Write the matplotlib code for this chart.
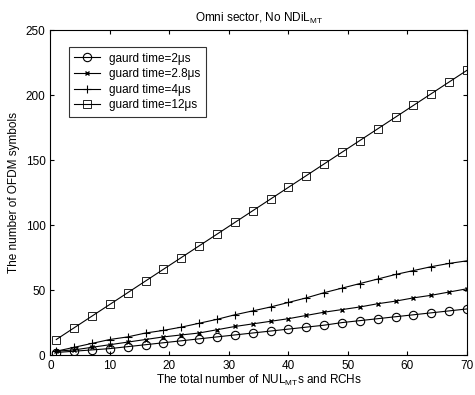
import numpy as np
import matplotlib
matplotlib.use('Agg')
import matplotlib.pyplot as plt

plt.rcParams['font.family'] = ['Liberation Sans', 'DejaVu Sans']
plt.rcParams['mathtext.fontset'] = 'custom'
plt.rcParams['mathtext.rm'] = 'Liberation Sans'
plt.rcParams['mathtext.it'] = 'Liberation Sans'

# number of NUL_MTs and RCHs (marker positions)
n_users = [1, 4, 7, 10, 13, 16, 19, 22, 25, 28, 31, 34, 37, 40, 43, 46, 49, 52, 55, 58, 61, 64, 67, 70]

# number of OFDM symbols per guard time
gt_2us = [2, 3, 4, 5, 6.5, 8, 9.5, 11, 12.5, 14, 15.5, 17, 18.5, 20, 21.5, 23, 25, 26.5, 28, 29.5, 31, 32.5, 34, 35.5]
gt_2_8us = [3, 4, 6, 8, 10, 12, 14, 15.5, 17, 19.5, 22, 24, 26, 28, 30.5, 33, 35, 37, 39.5, 41.5, 44, 46, 48.5, 51]
gt_4us = [3, 6, 9, 12, 14, 17, 19, 21.5, 24.5, 27.5, 31, 34, 37, 40.5, 44, 48, 51.5, 55, 58.5, 62, 65, 68, 70.5, 72.5]
gt_12us = [12, 21, 30, 39, 48, 57, 66, 75, 84, 93, 102, 111, 120, 129, 138, 147, 156, 165, 174, 183, 192, 201, 210, 219]

labels = ['gaurd time=2μs', 'guard time=2.8μs', 'guard time=4μs', 'guard time=12μs']

fig = plt.figure(figsize=(4.75, 3.95), dpi=100)
ax = fig.add_axes([0.106, 0.101, 0.877, 0.823])

ax.plot(n_users, gt_2us, '-o', color='k', lw=0.8, ms=6, mfc='none', mew=0.8, label=labels[0])
ax.plot(n_users, gt_2_8us, '-x', color='k', lw=0.8, ms=3, mew=1.0, label=labels[1])
ax.plot(n_users, gt_4us, '-+', color='k', lw=0.8, ms=6, mew=0.8, label=labels[2])
ax.plot(n_users, gt_12us, '-s', color='k', lw=0.8, ms=5.5, mfc='none', mew=0.6, label=labels[3])

ax.set_xlim(0, 70)
ax.set_ylim(0, 250)
ax.set_xticks(np.arange(0, 71, 10))
ax.set_yticks(np.arange(0, 251, 50))
ax.tick_params(direction='in', top=True, right=True, labelsize=8.5, length=3)
for s in ax.spines.values():
    s.set_linewidth(0.8)

ax.set_title('Omni sector, No NDiL$_{\\rm MT}$', fontsize=8.5)
ax.set_xlabel('The total number of NUL$_{\\rm MT}$s and RCHs', fontsize=8.5, labelpad=1)
ax.set_ylabel('The number of OFDM symbols', fontsize=8.5, labelpad=4)

leg = ax.legend(loc='upper left', bbox_to_anchor=(0.03, 0.965), fontsize=8.5, frameon=True,
                fancybox=False, edgecolor='k', handlelength=2.2, borderpad=0.45,
                labelspacing=0.3, handletextpad=0.8)
leg.get_frame().set_linewidth(0.8)

fig.savefig('out.png', dpi=100)
